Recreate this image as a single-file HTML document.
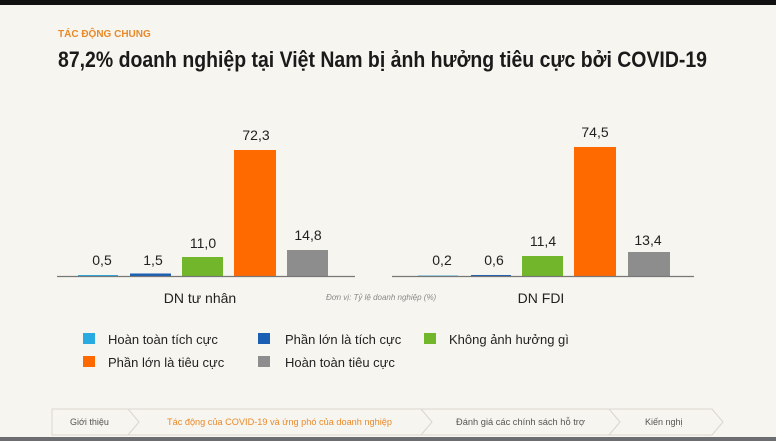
<!DOCTYPE html>
<html><head><meta charset="utf-8"><style>
html,body{margin:0;padding:0;background:#f7f5ef;}
svg{display:block;font-family:"Liberation Sans","DejaVu Sans",sans-serif;}
</style></head><body>
<svg width="776" height="441" viewBox="0 0 776 441" xmlns="http://www.w3.org/2000/svg">
<rect width="776" height="441" fill="#f7f5ef"/>
<rect width="776" height="5" fill="#111"/>
<rect y="437" width="776" height="4" fill="#6b6d70"/>
<text x="58" y="37" font-size="10" font-weight="bold" fill="#e88a2a">TÁC ĐỘNG CHUNG</text>
<text x="58" y="67" font-size="22" font-weight="bold" fill="#1a1a1a" textLength="649" lengthAdjust="spacingAndGlyphs">87,2% doanh nghiệp tại Việt Nam bị ảnh hưởng tiêu cực bởi COVID-19</text>
<g font-size="14" fill="#222" text-anchor="middle">
<!-- left group -->
<rect x="78" y="275" width="40" height="1" fill="#29abe2"/>
<rect x="130" y="273.5" width="41" height="2.5" fill="#1a5fb4"/>
<rect x="182" y="257" width="41" height="19" fill="#72b62b"/>
<rect x="234" y="150" width="42" height="126" fill="#ff6a00"/>
<rect x="287" y="250" width="41" height="26" fill="#8d8d8d"/>
<line x1="57" y1="276.5" x2="355" y2="276.5" stroke="#777" stroke-width="1.2"/>
<text x="102" y="265">0,5</text>
<text x="153" y="265">1,5</text>
<text x="203" y="248">11,0</text>
<text x="256" y="140">72,3</text>
<text x="308" y="240">14,8</text>
<!-- right group -->
<rect x="418" y="275.5" width="40" height="0.8" fill="#29abe2"/>
<rect x="471" y="275" width="40" height="1.2" fill="#1a5fb4"/>
<rect x="522" y="256" width="41" height="20" fill="#72b62b"/>
<rect x="574" y="147" width="42" height="129" fill="#ff6a00"/>
<rect x="628" y="252" width="42" height="24" fill="#8d8d8d"/>
<line x1="392" y1="276.5" x2="694" y2="276.5" stroke="#777" stroke-width="1.2"/>
<text x="442" y="265">0,2</text>
<text x="494" y="265">0,6</text>
<text x="543" y="246">11,4</text>
<text x="595" y="137">74,5</text>
<text x="648" y="245">13,4</text>
<text x="200" y="303">DN tư nhân</text>
<text x="541" y="303">DN FDI</text>
</g>
<text x="326" y="300" font-size="8" font-style="italic" fill="#8a8a8a">Đơn vị: Tỷ lệ doanh nghiệp (%)</text>
<g font-size="13" fill="#222">
<rect x="83" y="333" width="12" height="11" fill="#29abe2"/><text x="108" y="344">Hoàn toàn tích cực</text>
<rect x="258" y="333" width="12" height="11" fill="#1a5fb4"/><text x="285" y="344">Phần lớn là tích cực</text>
<rect x="424" y="333" width="12" height="11" fill="#72b62b"/><text x="449" y="344">Không ảnh hưởng gì</text>
<rect x="83" y="356" width="12" height="11" fill="#ff6a00"/><text x="108" y="367">Phần lớn là tiêu cực</text>
<rect x="258" y="356" width="12" height="11" fill="#8d8d8d"/><text x="285" y="367">Hoàn toàn tiêu cực</text>
</g>
<!-- breadcrumb -->
<g fill="none" stroke="#d9d6ce" stroke-width="1">
<path d="M52 409 H712 L723 422 L712 435 H52 Z" fill="#f7f5ef"/>
<path d="M128 409 L139 422 L128 435"/>
<path d="M421 409 L432 422 L421 435"/>
<path d="M609 409 L620 422 L609 435"/>
</g>
<g font-size="9" fill="#555">
<text x="70" y="425">Giới thiệu</text>
<text x="167" y="425" fill="#e88a2a" textLength="225" lengthAdjust="spacingAndGlyphs">Tác động của COVID-19 và ứng phó của doanh nghiệp</text>
<text x="456" y="425" textLength="129" lengthAdjust="spacingAndGlyphs">Đánh giá các chính sách hỗ trợ</text>
<text x="645" y="425">Kiến nghị</text>
</g>
</svg>
</body></html>
